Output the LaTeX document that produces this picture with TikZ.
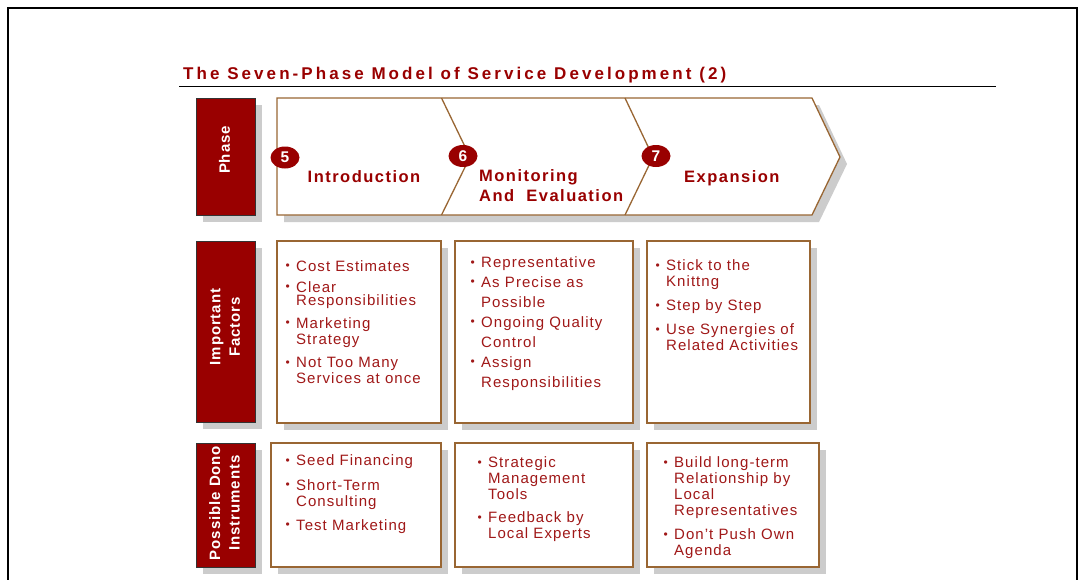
\documentclass[tikz,border=0pt]{standalone}
\usepackage{fontspec}
\setmainfont{Liberation Sans}
\newfontfamily\ttlfont{Liberation Sans}[LetterSpace=18]
\newfontfamily\phfont{Liberation Sans}[LetterSpace=9]
\newfontfamily\bodyfont{Liberation Sans}[LetterSpace=7]
\newfontfamily\lblfont{Liberation Sans}[LetterSpace=6]
\usetikzlibrary{shapes.geometric}
\definecolor{dred}{HTML}{990000}
\definecolor{tred}{HTML}{A01818}
\definecolor{chevbrown}{HTML}{996633}
\definecolor{shadegray}{HTML}{CCCCCC}
\newcommand\bul{\llap{\raisebox{1.2pt}{\fontsize{12}{12}\selectfont\textbullet}\hspace{6.5pt}}}
\tikzset{
  lblbox/.style={fill=dred, draw=black!80, line width=0.8pt},
  shadowbox/.style={fill=shadegray, draw=none},
  infobox/.style={fill=white, draw=chevbrown, line width=1.3pt},
  txt/.style={anchor=base west, inner sep=0pt, text=tred, font=\bodyfont\fontsize{15}{18}\selectfont},
  phtxt/.style={anchor=base west, inner sep=0pt, text=dred, font=\phfont\bfseries\fontsize{16.5}{19}\selectfont},
  lbltxt/.style={rotate=90, align=center, inner sep=0pt, text=white, font=\lblfont\bfseries\fontsize{15}{19.5}\selectfont},
  numdot/.style={ellipse, fill=dred, minimum width=29pt, minimum height=22pt, inner sep=0pt, text=white, font=\bfseries\fontsize{15.5}{15.5}\selectfont}
}
\begin{document}
\begin{tikzpicture}[x=1pt,y=-1pt]
\useasboundingbox (0,0) rectangle (1079,579);
\fill[white] (0,0) rectangle (1079,579);
% outer frame
\draw[line width=2pt] (8.3,581) -- (8.3,7.5) -- (1077,7.5) -- (1077,581);
% title
\node[anchor=base west, inner sep=0pt, text=dred, font=\ttlfont\bfseries\fontsize{17}{20}\selectfont] (title) at (183,79) {The Seven-Phase Model of Service Development (2)};
\draw[line width=1.7pt] (179,86.5) -- (996,86.5);

% row labels
\foreach \ya/\yb in {98/215, 241/422, 443/567}{
  \fill[shadowbox] (203,\ya+7) rectangle (262,\yb+7);
  \filldraw[lblbox] (196,\ya) rectangle (255,\yb);
}
\node[lbltxt] (lphase) at (224.5,150) {Phase};
\node[lbltxt] (lfactors) at (225,327) {Important\\Factors};
\node[lbltxt] (linstr) at (224.5,503) {Possible Dono\\Instruments};

% chevron
\fill[shadowbox] (284,105) -- (819,105) -- (847,164) -- (819,222) -- (284,222) -- cycle;
\filldraw[infobox] (277,98) -- (812,98) -- (840,157) -- (812,215) -- (277,215) -- cycle;
\draw[chevbrown, line width=1.3pt] (441.5,98) -- (470,157) -- (441.5,215);
\draw[chevbrown, line width=1.3pt] (625,98) -- (653,157) -- (625,215);
\node[numdot] (n5) at (285,157.5) {5};
\node[numdot] (n6) at (463,156) {6};
\node[numdot] (n7) at (656,156) {7};
\node[phtxt] (intro) at (307.5,182) {Introduction};
\node[phtxt] (monit) at (479,181.7) {Monitoring};
\node[phtxt] (evalu) at (479,201) {And\ \ Evaluation};
\node[phtxt] (expan) at (684,182) {Expansion};

% boxes
\foreach \xa/\ya/\xb/\yb in {277/241/441/423, 455/241/633/423, 647/241/810/423, 271/443/441/567, 455/443/633/567, 647/443/819/567}{
  \fill[shadowbox] (\xa+7,\ya+7) rectangle (\xb+7,\yb+7);
  \filldraw[infobox] (\xa,\ya) rectangle (\xb,\yb);
}

% row 2 box 1
\node[txt] (a1) at (296,271) {\bul Cost Estimates};
\node[txt] (a2) at (296,292) {\bul Clear};
\node[txt] (a3) at (296,305) {Responsibilities};
\node[txt] (a4) at (296,328) {\bul Marketing};
\node[txt] (a5) at (296,344) {Strategy};
\node[txt] (a6) at (296,367.5) {\bul Not Too Many};
\node[txt] (a7) at (296,383.5) {Services at once};
% row 2 box 2
\node[txt] (b1) at (481,267.5) {\bul Representative};
\node[txt] (b2) at (481,287) {\bul As Precise as};
\node[txt] (b3) at (481,307) {Possible};
\node[txt] (b4) at (481,327) {\bul Ongoing Quality};
\node[txt] (b5) at (481,347) {Control};
\node[txt] (b6) at (481,367) {\bul Assign};
\node[txt] (b7) at (481,387) {Responsibilities};
% row 2 box 3
\node[txt] (c1) at (666,270.7) {\bul Stick to the};
\node[txt] (c2) at (666,286.7) {Knittng};
\node[txt] (c3) at (666,310.7) {\bul Step by Step};
\node[txt] (c4) at (666,334.7) {\bul Use Synergies of};
\node[txt] (c5) at (666,350.7) {Related Activities};
% row 3 box 1
\node[txt] (d1) at (296,465.7) {\bul Seed Financing};
\node[txt] (d2) at (296,490) {\bul Short-Term};
\node[txt] (d3) at (296,506) {Consulting};
\node[txt] (d4) at (296,530) {\bul Test Marketing};
% row 3 box 2
\node[txt] (e1) at (488,467.4) {\bul Strategic};
\node[txt] (e2) at (488,483.4) {Management};
\node[txt] (e3) at (488,499.4) {Tools};
\node[txt] (e4) at (488,522.7) {\bul Feedback by};
\node[txt] (e5) at (488,538.7) {Local Experts};
% row 3 box 3
\node[txt] (f1) at (674,467.4) {\bul Build long-term};
\node[txt] (f2) at (674,483.4) {Relationship by};
\node[txt] (f3) at (674,499.4) {Local};
\node[txt] (f4) at (674,515.4) {Representatives};
\node[txt] (f5) at (674,539.4) {\bul Don’t Push Own};
\node[txt] (f6) at (674,555.4) {Agenda};
\end{tikzpicture}
\end{document}
